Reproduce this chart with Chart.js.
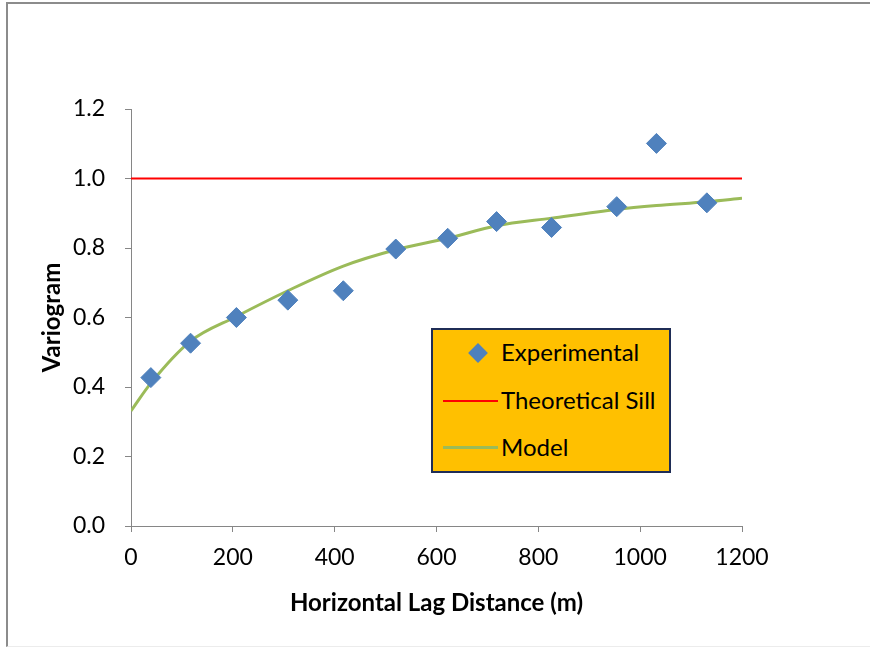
<!DOCTYPE html>
<html>
<head>
<meta charset="utf-8">
<script src="https://cdn.jsdelivr.net/npm/chart.js@4.4.1/dist/chart.umd.min.js"></script>
<style>
    html, body { margin: 0; padding: 0; background: #fff; overflow: hidden; }
    #wrap { position: relative; width: 870px; height: 648px; overflow: hidden; }
    #frame {
        position: absolute; left: 6px; top: 2px; width: 880px; height: 645px;
        border-left: 2px solid #8c8c8c; border-top: 2px solid #8c8c8c; border-bottom: 1px solid #ececec;
        box-sizing: border-box; pointer-events: none;
    }
    #legendBox {
        position: absolute; left: 431px; top: 328px; width: 240px; height: 145px;
        background: #FFC000; border: 2px solid #1F2D56; box-sizing: border-box;
        font-family: Lato, "Open Sans", sans-serif; font-size: 24px; color: #000;
    }
    .item { position: absolute; left: 68px; line-height: 28px; white-space: nowrap; }
    .sym { position: absolute; }
</style>
</head>
<body>
<div id="wrap">
    <canvas id="variogram" width="870" height="648"></canvas>
    <div id="frame"></div>
    <div id="legendBox">
        <div class="sym" style="left:38px; top:16px; width:14px; height:14px; background:#4F81BD; transform:rotate(45deg);"></div>
        <div class="item" style="top:8px;">Experimental</div>
        <div class="sym" style="left:10px; top:70px; width:55px; height:2px; background:#FF0000;"></div>
        <div class="item" style="top:56px;">Theoretical Sill</div>
        <div class="sym" style="left:10px; top:116px; width:55px; height:3px; background:#9BBB59;"></div>
        <div class="item" style="top:103px;">Model</div>
    </div>
</div>
<script>
// Experimental variogram points (lag distance in m, variogram value)
const lagDistances = [39, 117, 207, 308, 417, 520, 622, 718, 826, 954, 1032, 1131];
const experimentalValues = [0.427, 0.526, 0.600, 0.650, 0.677, 0.797, 0.828, 0.876, 0.859, 0.919, 1.101, 0.930];

// Theoretical sill
const sillDistances = [0, 1200];
const sillValues = [1.0, 1.0];

// Fitted model curve
const modelDistances = [0, 39, 117, 207, 308, 417, 520, 622, 718, 826, 954, 1032, 1131, 1200];
const modelValues = [0.331, 0.411, 0.532, 0.603, 0.677, 0.748, 0.795, 0.828, 0.864, 0.886, 0.911, 0.922, 0.933, 0.943];

function toPoints(xs, ys) {
    return xs.map((x, i) => ({ x: x, y: ys[i] }));
}

const axisColor = '#868686';
const fontFamily = 'Lato, "Open Sans", sans-serif';

const ctx = document.getElementById('variogram').getContext('2d');
new Chart(ctx, {
    type: 'scatter',
    data: {
        datasets: [
            {
                label: 'Experimental',
                data: toPoints(lagDistances, experimentalValues),
                backgroundColor: '#4F81BD',
                borderColor: '#4F81BD',
                pointStyle: 'rectRot',
                pointRadius: 10,
                order: 1
            },
            {
                label: 'Theoretical Sill',
                data: toPoints(sillDistances, sillValues),
                showLine: true,
                borderColor: '#FF0000',
                borderWidth: 2,
                pointRadius: 0,
                order: 3
            },
            {
                label: 'Model',
                data: toPoints(modelDistances, modelValues),
                showLine: true,
                borderColor: '#9BBB59',
                borderWidth: 3,
                pointRadius: 0,
                cubicInterpolationMode: 'monotone',
                order: 2
            }
        ]
    },
    options: {
        responsive: false,
        animation: false,
        layout: { padding: { left: 0, top: 109, right: 128, bottom: 0 } },
        plugins: {
            legend: { display: false },
            tooltip: { enabled: false }
        },
        scales: {
            x: {
                type: 'linear',
                min: 0,
                max: 1200,
                ticks: {
                    stepSize: 200,
                    color: '#000',
                    padding: 12,
                    font: { family: fontFamily, size: 23 },
                    callback: (v) => String(v)
                },
                grid: { drawOnChartArea: false, drawTicks: true, tickLength: 6, color: axisColor },
                border: { color: axisColor, width: 1 },
                title: {
                    display: true,
                    text: 'Horizontal Lag Distance (m)',
                    color: '#000',
                    font: { family: fontFamily, size: 24, weight: 'bold' },
                    padding: { top: 8, bottom: 30 }
                },
                afterFit: (scale) => { scale.height = 122; }
            },
            y: {
                min: 0,
                max: 1.2,
                ticks: {
                    stepSize: 0.2,
                    color: '#000',
                    padding: 20,
                    font: { family: fontFamily, size: 23 },
                    callback: (v) => v.toFixed(1)
                },
                grid: { drawOnChartArea: false, drawTicks: true, tickLength: 6, color: axisColor },
                border: { color: axisColor, width: 1 },
                title: {
                    display: true,
                    text: 'Variogram',
                    color: '#000',
                    font: { family: fontFamily, size: 24, weight: 'bold' },
                    padding: { top: 38, bottom: 0 }
                },
                afterFit: (scale) => { scale.width = 131; }
            }
        }
    }
});
</script>
</body>
</html>
